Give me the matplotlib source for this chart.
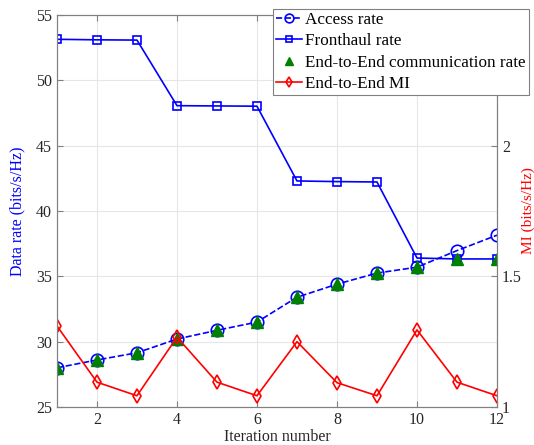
import numpy as np
import matplotlib.pyplot as plt

plt.rcParams['font.family'] = ['Liberation Serif', 'DejaVu Serif']
plt.rcParams['mathtext.fontset'] = 'stix'

iterations = np.arange(1, 13)
access_rate = [28.0, 28.6, 29.15, 30.2, 30.87, 31.5, 33.4, 34.4, 35.25, 35.7, 36.97, 38.15]
fronthaul_rate = [53.14, 53.1, 53.08, 48.06, 48.04, 48.02, 42.3, 42.25, 42.22, 36.4, 36.33, 36.33]
e2e_rate = [28.0, 28.6, 29.15, 30.2, 30.87, 31.5, 33.4, 34.4, 35.25, 35.7, 36.35, 36.35]
e2e_mi = [1.31, 1.095, 1.043, 1.267, 1.095, 1.043, 1.25, 1.093, 1.043, 1.295, 1.095, 1.043]

spine_col = '#808080'
text_col = '#262626'

fig = plt.figure(figsize=(5.34, 4.45), dpi=100)
ax = fig.add_axes([0.1067, 0.0854, 0.824, 0.8809])
ax2 = ax.twinx()

l1, = ax.plot(iterations, access_rate, '--o', color='blue', lw=1.2,
              markersize=9, markerfacecolor='none', markeredgewidth=1.2,
              label='Access rate')
l2, = ax.plot(iterations, fronthaul_rate, '-s', color='blue', lw=1.2,
              markersize=5.5, markerfacecolor='none', markeredgewidth=1.2,
              label='Fronthaul rate')
l3, = ax.plot(iterations, e2e_rate, '^', color='green', markersize=8,
              linestyle='none', label='End-to-End communication rate')
l4, = ax2.plot(iterations, e2e_mi, '-d', color='red', lw=1.2,
               markersize=7, markerfacecolor='none', markeredgewidth=1.2,
               label='End-to-End MI')

ax.set_xlim(1, 12)
ax.set_ylim(25, 55)
ax.set_xticks([2, 4, 6, 8, 10, 12])
ax.set_yticks([25, 30, 35, 40, 45, 50, 55])
ax2.set_ylim(1, 2.5)
ax2.set_yticks([1, 1.5, 2])
ax2.set_yticklabels(['1', '1.5', '2'])

ax.grid(True, color='#e6e6e6', lw=0.8)
ax.set_axisbelow(True)

for a in (ax, ax2):
    for s in a.spines.values():
        s.set_color(spine_col)
        s.set_linewidth(0.8)
    a.tick_params(direction='in', colors=spine_col, labelcolor=text_col,
                  labelsize=11.5, length=4)
ax.tick_params(axis='x', top=True)

ax.set_xlabel('Iteration number', fontsize=11.5, color=text_col, labelpad=1)
ax.set_ylabel('Data rate (bits/s/Hz)', fontsize=11.5, color='blue', labelpad=8)
ax2.set_ylabel('MI (bits/s/Hz)', fontsize=11, color='red', labelpad=0)

leg = fig.legend(handles=[l1, l2, l3, l4], loc='upper right',
                 bbox_to_anchor=(0.991, 0.98), fontsize=12.3,
                 handlelength=1.5, handletextpad=0.2, labelspacing=0.3,
                 borderpad=0.2, borderaxespad=0, fancybox=False, framealpha=1,
                 edgecolor=spine_col, markerscale=0.7)
leg.get_frame().set_linewidth(0.8)

fig.savefig('out.png', dpi=100)
